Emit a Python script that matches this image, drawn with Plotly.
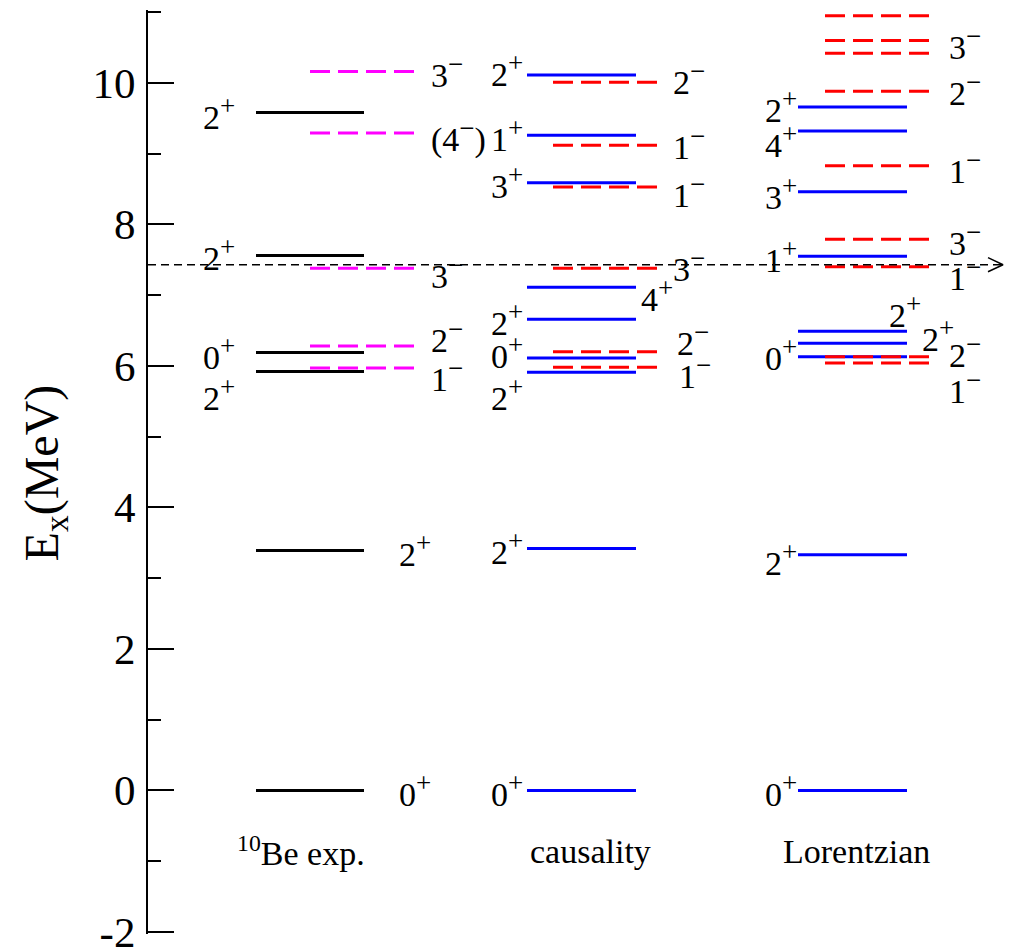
import plotly.graph_objects as go

# ---- level energies (MeV) and spin-parity labels ----
exp_pos_E = [0.00, 3.39, 5.92, 6.19, 7.56, 9.58]
exp_pos_J = ["0+", "2+", "2+", "0+", "2+", "2+"]
exp_neg_E = [5.97, 6.28, 7.38, 9.29, 10.16]
exp_neg_J = ["1-", "2-", "3-", "(4-)", "3-"]

cau_pos_E = [0.00, 3.42, 5.91, 6.11, 6.66, 7.11, 8.59, 9.26, 10.11]
cau_pos_J = ["0+", "2+", "2+", "0+", "2+", "4+", "3+", "1+", "2+"]
cau_neg_E = [5.98, 6.20, 7.38, 8.53, 9.12, 10.01]
cau_neg_J = ["1-", "2-", "3-", "1-", "1-", "2-"]

lor_pos_E = [0.00, 3.33, 6.13, 6.32, 6.49, 7.55, 8.46, 9.32, 9.66]
lor_pos_J = ["0+", "2+", "0+", "2+", "2+", "1+", "3+", "4+", "2+"]
lor_neg_E = [6.04, 6.13, 7.40, 7.79, 8.83, 9.88, 10.42, 10.60, 10.95]
lor_neg_J = ["1-", "2-", "1-", "3-", "1-", "2-", "", "3-", ""]

alpha_threshold = 7.43

column_names = ["<sup>10</sup>Be exp.", "causality", "Lorentzian"]
y_ticks = [-2, 0, 2, 4, 6, 8, 10]
y_tick_text = ["-2", "0", "2", "4", "6", "8", "10"]
y_minor = [-1, 1, 3, 5, 7, 9, 11]

# ---- layout: horizontal extents of the level bars (x axis is in pixels) ----
X_MIN, X_MAX = 148, 1010
bars = {
    "exp": {"pos": (256, 364), "neg": (310, 419)},
    "cau": {"pos": (527, 636), "neg": (553, 663)},
    "lor": {"pos": (798, 907), "neg": (825, 933)},
}
colors = {"exp": ("black", "#ff00ff"), "cau": ("#0000ff", "#ff0000"), "lor": ("#0000ff", "#ff0000")}

# label placement: (x, anchor, pixel nudge downward)
exp_pos_place = [(398, "left", 0), (398, "left", 0), (236, "right", 23), (236, "right", 1),
                 (236, "right", -1), (236, "right", 1)]
exp_neg_place = [(430, "left", 7), (430, "left", -10), (430, "left", 4), (430, "left", 3), (430, "left", 0)]
cau_pos_place = [(524, "right", 0), (524, "right", 0), (524, "right", 22), (524, "right", -6),
                 (524, "right", 0), (640, "left", 8), (524, "right", 0), (524, "right", 0),
                 (524, "right", -5)]
cau_neg_place = [(678, "left", 5), (676, "left", -12), (672, "left", -3), (672, "left", 5),
                 (672, "left", -2), (672, "left", -4)]
lor_pos_place = [(798, "right", 0), (798, "right", 5), (798, "right", -2), (921, "left", -8),
                 (888, "left", -20), (798, "right", 0), (798, "right", 2), (798, "right", 11),
                 (798, "right", 0)]
lor_neg_place = [(948, "left", 24), (948, "left", -5), (948, "left", 8), (948, "left", 0),
                 (948, "left", 2), (948, "left", -2), (948, "left", 0), (948, "left", 3),
                 (948, "left", 0)]

SERIF = "Liberation Serif"
LABEL_FONT = dict(family=SERIF, size=34, color="black")
SUP_STYLE = "font-size:27px"


def fmt(j):
    """Turn '2+' / '(4-)' into HTML with a raised parity sign."""
    out = []
    for ch in j:
        if ch in "+-":
            sign = "+" if ch == "+" else "\u2212"
            out.append('<sup><span style="%s">%s</span></sup>' % (SUP_STYLE, sign))
        else:
            out.append(ch)
    return "".join(out)


def level_trace(energies, x0, x1, color, dashed):
    xs, ys = [], []
    for e in energies:
        xs += [x0, x1, None]
        ys += [e, e, None]
    return go.Scatter(
        x=xs, y=ys, mode="lines", hoverinfo="skip", showlegend=False,
        line=dict(color=color, width=3, dash="20px,8px" if dashed else "solid"),
    )


fig = go.Figure()
annotations = []

groups = [
    ("exp", exp_pos_E, exp_pos_J, exp_pos_place, exp_neg_E, exp_neg_J, exp_neg_place),
    ("cau", cau_pos_E, cau_pos_J, cau_pos_place, cau_neg_E, cau_neg_J, cau_neg_place),
    ("lor", lor_pos_E, lor_pos_J, lor_pos_place, lor_neg_E, lor_neg_J, lor_neg_place),
]

for key, pE, pJ, pPl, nE, nJ, nPl in groups:
    c_pos, c_neg = colors[key]
    fig.add_trace(level_trace(pE, *bars[key]["pos"], c_pos, False))
    fig.add_trace(level_trace(nE, *bars[key]["neg"], c_neg, True))
    for E, J, (lx, anc, dy) in list(zip(pE, pJ, pPl)) + list(zip(nE, nJ, nPl)):
        if not J:
            continue
        annotations.append(dict(
            x=lx, y=E, xref="x", yref="y", text=fmt(J), showarrow=False,
            xanchor=anc, yanchor="middle", yshift=-dy,
            font=LABEL_FONT, borderpad=0,
        ))

# alpha threshold: dashed line with an open arrow head
x_end = 1003
fig.add_trace(go.Scatter(
    x=[X_MIN, x_end], y=[alpha_threshold, alpha_threshold], mode="lines",
    hoverinfo="skip", showlegend=False,
    line=dict(color="black", width=1.5, dash="8px,5px"),
))
head_dx, head_dy = 15, 0.10
fig.add_trace(go.Scatter(
    x=[x_end - head_dx, x_end, x_end - head_dx],
    y=[alpha_threshold + head_dy, alpha_threshold, alpha_threshold - head_dy],
    mode="lines", hoverinfo="skip", showlegend=False,
    line=dict(color="black", width=1.5),
))

# column captions
for name, xc in zip(column_names, [301, 590, 856]):
    annotations.append(dict(
        x=xc, y=-0.86, xref="x", yref="y", text=name, showarrow=False,
        xanchor="center", yanchor="middle",
        font=dict(family=SERIF, size=34, color="black"),
    ))

# axis title (placed in paper coordinates, left of the axis line)
annotations.append(dict(
    x=(45 - X_MIN) / (X_MAX - X_MIN), y=4.48, xref="paper", yref="y",
    text="E<sub>x</sub>(MeV)", showarrow=False,
    textangle=-90, xanchor="center", yanchor="middle",
    font=dict(family=SERIF, size=48, color="black"),
))

fig.update_layout(
    width=1010, height=952,
    margin=dict(l=148, r=0, t=10, b=18, autoexpand=False),
    paper_bgcolor="white", plot_bgcolor="white",
    annotations=annotations,
    xaxis=dict(range=[X_MIN, X_MAX], visible=False, automargin=False),
    yaxis=dict(
        range=[-2.03, 11.03], showgrid=False, zeroline=False, automargin=False,
        showline=True, linecolor="black", linewidth=2,
        tickmode="array", tickvals=y_ticks, ticktext=y_tick_text,
        ticks="inside", ticklen=26, tickwidth=2, tickcolor="black",
        ticklabelstandoff=2, ticklabeloverflow="allow",
        tickfont=dict(family=SERIF, size=43, color="black"),
        minor=dict(tickmode="array", tickvals=y_minor, ticks="inside",
                   ticklen=13, tickwidth=2, tickcolor="black", showgrid=False),
    ),
)

fig.write_html("out.html")
